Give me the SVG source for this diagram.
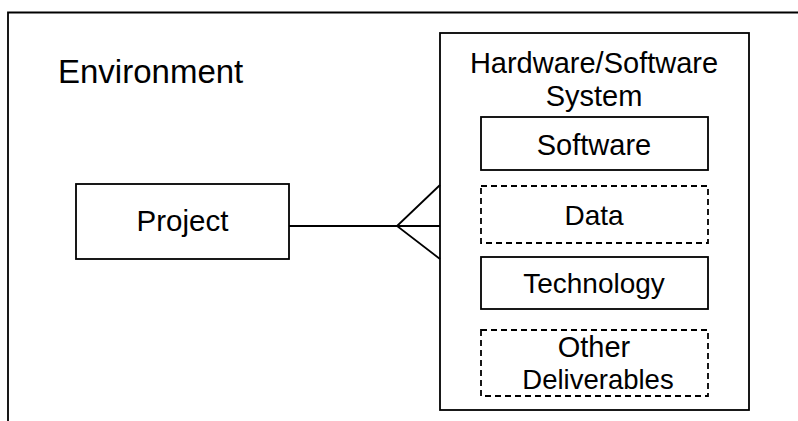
<svg xmlns="http://www.w3.org/2000/svg" width="798" height="421" viewBox="0 0 798 421">
<style>
.box{fill:#fff;stroke:#000;stroke-width:1.8}
.dash{fill:#fff;stroke:#000;stroke-width:1.8;stroke-dasharray:6 4}
.ln{fill:none;stroke:#000;stroke-width:1.8}
text{font-family:"Liberation Sans",Arial,sans-serif;font-size:29px;fill:#000;text-anchor:middle}
</style>
<rect width="798" height="421" fill="#fff"/>
<g id="environment">
<path class="ln" d="M8 421 V12.5 H798"/>
<text x="58" y="83" style="text-anchor:start;font-size:33px">Environment</text>
</g>
<g id="project">
<rect class="box" x="76" y="184" width="213" height="75"/>
<text x="182.5" y="231" style="font-size:29.5px">Project</text>
</g>
<g id="system">
<rect class="box" x="440" y="33" width="309" height="377"/>
<text x="594" y="73">Hardware/Software</text>
<text x="594" y="106">System</text>
</g>
<g id="software">
<rect class="box" x="481" y="117" width="227" height="53"/>
<text x="594" y="155">Software</text>
</g>
<g id="data">
<rect class="dash" x="481" y="186" width="227" height="57"/>
<text x="594" y="225" style="font-size:28px">Data</text>
</g>
<g id="technology">
<rect class="box" x="481" y="257" width="227" height="52"/>
<text x="594" y="293" style="font-size:28px">Technology</text>
</g>
<g id="other">
<rect class="dash" x="481" y="330" width="227" height="66"/>
<text x="594" y="357">Other</text>
<text x="598" y="389" style="font-size:27.5px">Deliverables</text>
</g>
<g id="connectors">
<path class="ln" d="M289 226 H440 M440 185 L397 226 L440 259"/>
</g>
</svg>
